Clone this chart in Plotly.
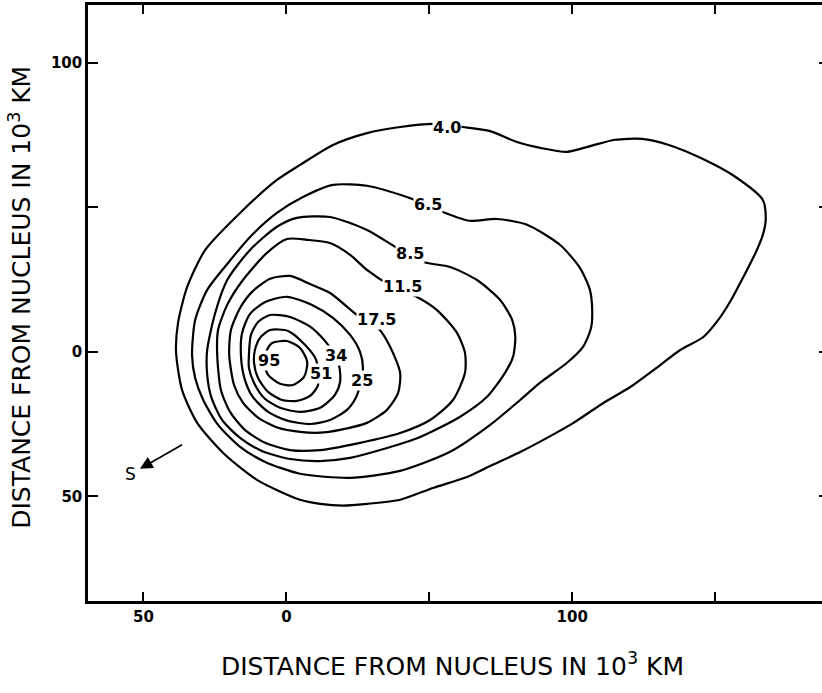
import plotly.graph_objects as go

# Isophote contour levels and their traced outlines (units of 10^3 km)
levels = ["4.0", "6.5", "8.5", "11.5", "17.5", "25", "34", "51", "95"]

c4_0_x = [-3.3, 4.8, 16.3, 28.2, 39.8, 51.3, 61.8, 71.3, 80.7, 88.8, 98.2, 106.6, 115.0, 124.4, 133.8,
          145.4, 156.9, 166.7, 167.7, 166.7, 164.3, 160.8, 155.6, 151.1, 145.9, 137.8, 130.8, 120.3,
          110.8, 100.3, 91.2, 81.8, 71.3, 63.2, 51.3, 39.8, 28.2, 19.8, 11.8, 4.8, -10.3, -22.1,
          -31.2, -36.5, -38.6, -37.9, -34.7, -28.4, -16.2]
c4_0_y = [59.4, 64.6, 71.5, 75.6, 77.7, 78.8, 77.7, 76.3, 72.5, 70.5, 69.1, 71.2, 73.3, 73.6, 71.5,
          66.8, 60.6, 52.5, 45.6, 40.4, 34.5, 27.6, 17.9, 11.0, 5.1, 0.6, -4.6, -12.2,
          -17.8, -24.7, -29.8, -34.7, -39.5, -43.3, -47.1, -51.2, -52.6, -53.2, -52.6, -51.2, -44.3, -35.0,
          -24.6, -13.2, 0.0, 10.0, 22.4, 35.2, 48.0]

c6_5_x = [-33.0, -31.9, -27.7, -20.4, -12.7, -3.3, 5.8, 16.3, 28.2, 39.8, 45.7, 54.5, 64.0, 73.7, 84.2,
          95.8, 102.7, 106.2, 107.0, 106.6, 103.8, 98.2, 88.8, 81.8, 71.3, 57.3, 39.8, 22.3, 4.8,
          -7.4, -16.2, -23.9, -29.1, -31.9]
c6_5_y = [-1.1, 11.0, 21.4, 30.7, 39.7, 48.0, 53.5, 57.7, 57.4, 54.3, 52.2, 48.4, 45.3, 45.9, 43.9,
          36.9, 29.0, 21.4, 14.4, 8.2, 1.7, -3.8, -10.7, -16.7, -25.3, -34.6, -41.2, -43.6, -42.2,
          -38.1, -32.9, -25.3, -16.7, -9.1]

c8_5_x = [-27.7, -24.9, -20.7, -12.7, -3.3, 3.7, 15.3, 28.2, 38.7, 47.5, 57.3, 66.7, 74.8, 79.0, 80.1,
          79.3, 76.5, 70.2, 60.8, 46.8, 32.8, 22.3, 11.8, 1.3, -8.6, -16.2, -22.5, -26.3, -27.7]
c8_5_y = [0.6, 13.4, 24.8, 35.2, 43.2, 46.3, 46.6, 42.1, 35.9, 31.1, 29.3, 24.8, 17.9, 11.0, 5.1,
          -1.8, -7.3, -15.6, -22.5, -29.5, -34.0, -36.7, -37.8, -37.1, -34.3, -29.8, -23.6, -15.6, -8.0]

c11_5_x = [-24.2, -23.9, -20.7, -15.2, -6.8, 0.2, 7.2, 15.3, 22.3, 28.2, 35.6, 45.7, 52.7, 59.7, 62.5,
           62.5, 58.3, 50.3, 39.8, 25.8, 11.8, 1.3, -7.4, -14.5, -19.7, -22.9]
c11_5_y = [-1.1, 7.5, 16.2, 24.8, 34.2, 39.0, 38.7, 37.6, 33.5, 28.3, 23.4, 18.9, 14.4, 6.5, -0.4,
           -7.3, -16.7, -23.6, -28.1, -31.5, -34.0, -34.0, -31.5, -27.0, -20.8, -13.2]

c17_5_x = [-20.0, -19.4, -16.2, -12.0, -5.7, 1.3, 8.3, 15.3, 24.7, 32.1, 36.3, 39.8, 39.1, 35.2, 28.2,
           18.8, 11.8, 4.8, -2.9, -9.9, -15.2, -18.3]
c17_5_y = [-1.1, 7.5, 15.1, 20.7, 25.2, 26.2, 23.4, 20.3, 12.7, 8.2, 1.7, -7.3, -14.2, -20.1, -24.6,
           -27.0, -28.0, -27.7, -26.3, -22.8, -17.6, -11.5]

c25_x = [-15.9, -15.5, -12.7, -7.4, 0.2, 9.0, 16.3, 22.3, 25.8, 26.8, 25.8, 24.4, 21.2, 15.3, 8.3,
         0.6, -6.4, -12.0, -14.8]
c25_y = [-1.1, 6.5, 13.1, 17.2, 19.0, 16.2, 11.7, 5.8, -0.1, -5.6, -11.5, -15.7, -20.1, -23.6, -25.0,
         -23.9, -20.8, -15.3, -8.7]

c34_x = [-13.1, -12.4, -9.9, -5.7, 1.3, 9.0, 14.6, 18.4, 18.8, 17.0, 11.8, 4.8, -2.2, -7.8, -11.3, -13.1]
c34_y = [-1.1, 5.8, 10.3, 12.7, 12.0, 8.2, 2.4, -4.6, -10.4, -14.9, -19.4, -20.8, -19.4, -16.0, -10.8, -5.6]

c51_x = [-11.0, -9.2, -5.7, 0.6, 6.5, 10.4, 11.1, 8.3, 3.7, -1.5, -6.4, -9.9, -11.3]
c51_y = [0.6, 4.8, 7.5, 7.2, 2.4, -2.8, -11.5, -15.3, -17.0, -16.7, -13.9, -9.1, -3.9]

c95_x = [-7.1, -5.0, 0.2, 4.8, 7.3, 6.2, 2.3, -2.2, -6.4, -7.8]
c95_y = [-0.1, 3.0, 3.7, 1.3, -3.5, -8.7, -11.5, -11.1, -8.0, -3.9]

# Contour label positions
label_x = [56.3, 49.6, 43.3, 40.5, 31.4, 26.5, 17.4, 12.1, -6.1]
label_y = [77.7, 51.0, 33.8, 22.4, 11.3, -10.0, -1.4, -7.7, -3.2]

# Sun direction marker: "S" label and arrow tail
sun_label_x, sun_label_y = -54.6, -42.4
sun_tail_x, sun_tail_y = -36.5, -32.2

# Axis ticks (labelled and unlabelled)
x_label_vals = [-50, 0, 100]
x_label_text = ["50", "0", "100"]
x_minor_vals = [50, 150]
x_all_vals = [-50, 0, 50, 100, 150]
y_label_vals = [100, 0, -50]
y_label_text = ["100", "0", "50"]
y_minor_vals = [50]
y_all_vals = [100, 50, 0, -50]
x_range = [-69.4, 187.4]
y_range = [-86.2, 119.9]

outlines = [(c4_0_x, c4_0_y), (c6_5_x, c6_5_y), (c8_5_x, c8_5_y), (c11_5_x, c11_5_y),
            (c17_5_x, c17_5_y), (c25_x, c25_y), (c34_x, c34_y), (c51_x, c51_y), (c95_x, c95_y)]

fig = go.Figure()
for (cx, cy), lev in zip(outlines, levels):
    fig.add_trace(go.Scatter(
        x=cx + [cx[0]], y=cy + [cy[0]], mode="lines", name=lev,
        line=dict(color="black", width=2.2, shape="spline", smoothing=0.7),
        showlegend=False, hoverinfo="skip"))

# invisible traces for the extra tick axes
fig.add_trace(go.Scatter(x=x_range, y=y_range, xaxis="x2", yaxis="y2", mode="markers",
                         marker=dict(opacity=0), showlegend=False, hoverinfo="skip"))
fig.add_trace(go.Scatter(x=x_range, y=y_range, xaxis="x3", yaxis="y3", mode="markers",
                         marker=dict(opacity=0), showlegend=False, hoverinfo="skip"))

label_font = dict(family="DejaVu Sans", size=16, color="black", weight="bold")
for lx, ly, lev in zip(label_x, label_y, levels):
    fig.add_annotation(x=lx, y=ly, text=lev, showarrow=False, font=label_font,
                       bgcolor="white", borderpad=0)

# direction to the Sun: the "S" text sits at the arrow's head end
fig.add_annotation(x=sun_tail_x, y=sun_tail_y, ax=sun_label_x, ay=sun_label_y,
                   axref="x", ayref="y", text="S", showarrow=True, arrowside="start",
                   startarrowhead=2, startarrowsize=1.5, arrowwidth=1.7, arrowcolor="black",
                   startstandoff=3, borderpad=1,
                   font=dict(family="DejaVu Sans", size=17, color="black"))

title_text = "DISTANCE FROM NUCLEUS IN 10<sup>3</sup> KM"
title_font = dict(family="DejaVu Sans", size=25, color="black")
fig.add_annotation(xref="paper", yref="paper", x=0.497, y=-0.107, text=title_text,
                   showarrow=False, font=title_font, xanchor="center", yanchor="middle")
fig.add_annotation(xref="paper", yref="paper", x=-0.093, y=0.51, text=title_text, textangle=-90,
                   showarrow=False, font=title_font, xanchor="center", yanchor="middle")

tick_font = dict(family="DejaVu Sans", size=15, color="black", weight="bold")
common = dict(showgrid=False, zeroline=False, tickcolor="black", tickwidth=2)
fig.update_layout(
    width=822, height=693,
    margin=dict(l=88, r=0, t=5, b=92),
    paper_bgcolor="white", plot_bgcolor="white",
    xaxis=dict(range=x_range, showline=True, linecolor="black", linewidth=2.5,
               ticks="inside", ticklen=9, tickvals=x_label_vals, ticktext=x_label_text,
               tickfont=tick_font, **common),
    yaxis=dict(range=y_range, showline=True, linecolor="black", linewidth=2.5,
               ticks="inside", ticklen=10, tickvals=y_label_vals, ticktext=y_label_text,
               tickfont=tick_font, **common),
    xaxis2=dict(range=x_range, overlaying="x", side="top", showline=True, linecolor="black",
                linewidth=2.5, ticks="inside", ticklen=9, tickvals=x_all_vals,
                showticklabels=False, **common),
    yaxis2=dict(range=y_range, overlaying="y", side="right", showline=False, ticks="inside",
                ticklen=3, tickvals=y_all_vals, showticklabels=False, **common),
    xaxis3=dict(range=x_range, overlaying="x", side="bottom", anchor="y3", showline=False,
                ticks="inside", ticklen=9, tickvals=x_minor_vals, showticklabels=False, **common),
    yaxis3=dict(range=y_range, overlaying="y", side="left", anchor="x3", showline=False,
                ticks="inside", ticklen=10, tickvals=y_minor_vals, showticklabels=False, **common),
)

fig.write_html("out.html")
